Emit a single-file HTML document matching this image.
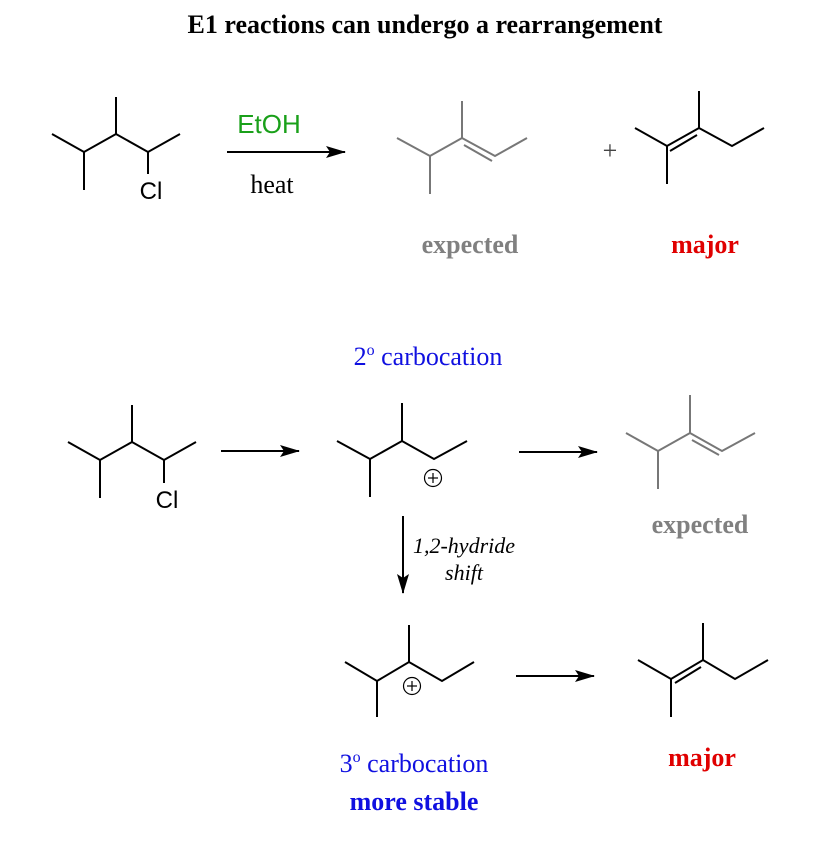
<!DOCTYPE html>
<html><head><style>
body{margin:0;background:#fff;}
svg text{font-family:"Liberation Serif",serif;}
</style></head><body>
<svg width="834" height="836" viewBox="0 0 834 836" xmlns="http://www.w3.org/2000/svg">
<defs><marker id="ah" markerWidth="20" markerHeight="12" refX="19" refY="6" orient="auto" markerUnits="userSpaceOnUse"><path d="M0,0 L20,6 L0,12 L4,6 Z" fill="#000"/></marker></defs>
<text x="425" y="33" text-anchor="middle" font-size="26" font-weight="bold">E1 reactions can undergo a rearrangement</text>
<g stroke="#000" stroke-width="2" fill="none">
<polyline points="52,134 84,152 116,134 148,152 180,134"/>
<line x1="84" y1="152" x2="84" y2="190"/><line x1="116" y1="134" x2="116" y2="97"/><line x1="148" y1="152" x2="148" y2="174"/>
<line x1="227" y1="152" x2="345" y2="152" marker-end="url(#ah)"/>
</g>
<text x="151" y="199" text-anchor="middle" font-size="24" style="font-family:'Liberation Sans',sans-serif">Cl</text>
<text x="269" y="133" text-anchor="middle" font-size="26" fill="#1aa01a" style="font-family:'Liberation Sans',sans-serif">EtOH</text>
<text x="272" y="193" text-anchor="middle" font-size="26">heat</text>
<g stroke="#777" stroke-width="2" fill="none">
<polyline points="397,138 430,156 462,138 495,156 527,138"/>
<line x1="430" y1="156" x2="430" y2="194"/><line x1="462" y1="138" x2="462" y2="101"/>
<line x1="464" y1="145" x2="492" y2="161"/>
</g>
<text x="610" y="159" text-anchor="middle" font-size="26" fill="#444">+</text>
<g stroke="#000" stroke-width="2" fill="none">
<polyline points="635,128 667,146 699,128 732,146 764,128"/>
<line x1="667" y1="146" x2="667" y2="184"/><line x1="699" y1="128" x2="699" y2="91"/>
<line x1="670" y1="151" x2="697" y2="135"/>
</g>
<text x="470" y="253" text-anchor="middle" font-size="26" font-weight="bold" fill="#808080">expected</text>
<text x="705" y="253" text-anchor="middle" font-size="26" font-weight="bold" fill="#e00000">major</text>
<text x="428" y="365" text-anchor="middle" font-size="26" fill="#1010e0">2<tspan font-size="16" dy="-10">o</tspan><tspan dy="10"> carbocation</tspan></text>
<g stroke="#000" stroke-width="2" fill="none">
<polyline points="68,442 100,460 132,442 164,460 196,442"/>
<line x1="100" y1="460" x2="100" y2="498"/><line x1="132" y1="442" x2="132" y2="405"/><line x1="164" y1="460" x2="164" y2="483"/>
<line x1="221" y1="451" x2="299" y2="451" marker-end="url(#ah)"/>
<polyline points="337,441 370,459 402,441 434,459 467,441"/>
<line x1="370" y1="459" x2="370" y2="497"/><line x1="402" y1="441" x2="402" y2="403"/>
<line x1="519" y1="452" x2="597" y2="452" marker-end="url(#ah)"/>
<line x1="403" y1="516" x2="403" y2="593" marker-end="url(#ah)"/>
<polyline points="345,662 377,681 409,662 442,681 474,662"/>
<line x1="377" y1="681" x2="377" y2="717"/><line x1="409" y1="662" x2="409" y2="625"/>
<line x1="516" y1="676" x2="594" y2="676" marker-end="url(#ah)"/>
<polyline points="638,660 671,679 703,660 735,679 768,660"/>
<line x1="671" y1="679" x2="671" y2="717"/><line x1="703" y1="660" x2="703" y2="623"/>
<line x1="675" y1="683" x2="701" y2="667"/>
</g>
<g stroke="#000" stroke-width="1.2" fill="none">
<circle cx="433" cy="478" r="8.5"/><line x1="428" y1="478" x2="438" y2="478"/><line x1="433" y1="473" x2="433" y2="483"/>
<circle cx="412" cy="686" r="8.5"/><line x1="407" y1="686" x2="417" y2="686"/><line x1="412" y1="681" x2="412" y2="691"/>
</g>
<text x="167" y="508" text-anchor="middle" font-size="24" style="font-family:'Liberation Sans',sans-serif">Cl</text>
<g stroke="#777" stroke-width="2" fill="none">
<polyline points="626,433 658,451 690,433 722,451 755,433"/>
<line x1="658" y1="451" x2="658" y2="489"/><line x1="690" y1="433" x2="690" y2="395"/>
<line x1="692" y1="440" x2="719" y2="455"/>
</g>
<text x="700" y="533" text-anchor="middle" font-size="26" font-weight="bold" fill="#808080">expected</text>
<text x="464" y="553" text-anchor="middle" font-size="22" font-style="italic">1,2-hydride</text>
<text x="464" y="580" text-anchor="middle" font-size="22" font-style="italic">shift</text>
<text x="414" y="772" text-anchor="middle" font-size="26" fill="#1010e0">3<tspan font-size="16" dy="-10">o</tspan><tspan dy="10"> carbocation</tspan></text>
<text x="414" y="810" text-anchor="middle" font-size="26" font-weight="bold" fill="#1010e0">more stable</text>
<text x="702" y="766" text-anchor="middle" font-size="26" font-weight="bold" fill="#e00000">major</text>
</svg>
</body></html>
